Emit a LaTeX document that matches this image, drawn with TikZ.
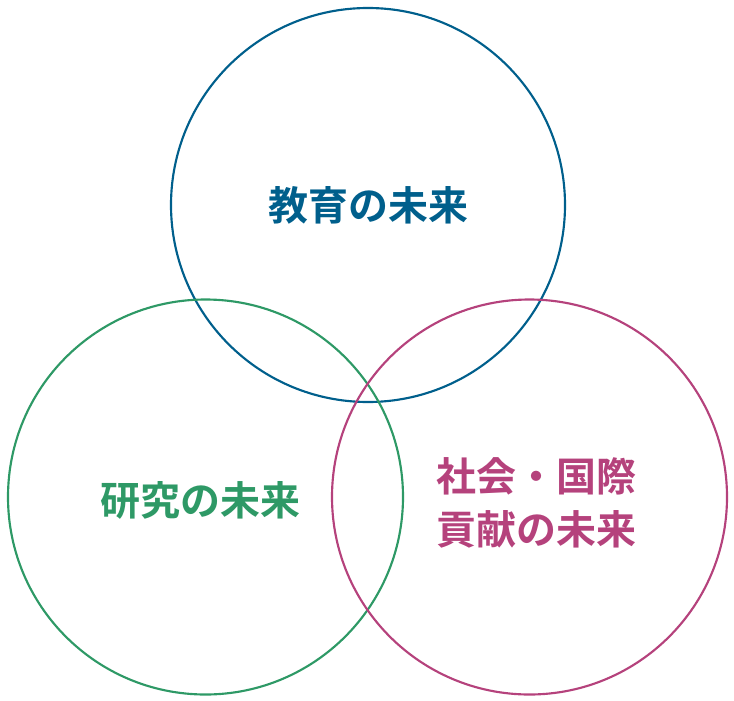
\documentclass[tikz,border=0pt]{standalone}
\usepackage{fontspec}
\newfontfamily\cjk{Noto Sans CJK JP}[BoldFont={* Bold}]
\definecolor{cblue}{HTML}{005F8C}
\definecolor{cgreen}{HTML}{2E9966}
\definecolor{cmag}{HTML}{B5427C}
\begin{document}
\begin{tikzpicture}[x=0.75pt,y=-0.75pt,
  ring/.style={line width=1.6pt},
  lbl/.style={font=\cjk\bfseries\fontsize{30}{40}\selectfont, align=center, inner sep=0pt}]
\useasboundingbox (0,0) rectangle (734,700);
\draw[ring,cblue] (368,205) circle[radius=197];
\draw[ring,cgreen] (205.5,497) circle[radius=197.5];
\draw[ring,cmag] (529.5,497) circle[radius=197.5];
\node[lbl,text=cblue] (edu) at (368,205) {教育の未来};
\node[lbl,text=cgreen] (res) at (200,500) {研究の未来};
\node[lbl,text=cmag] (soc) at (536.5,503) {社会・国際\\貢献の未来};
\end{tikzpicture}
\end{document}
